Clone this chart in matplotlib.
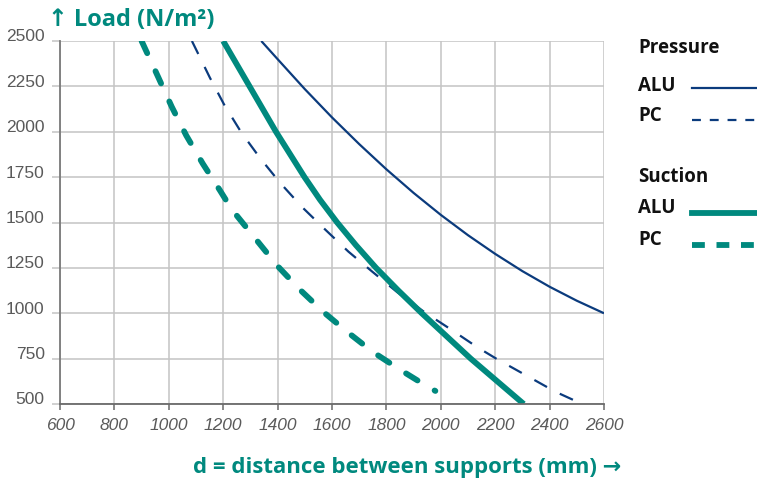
import matplotlib
matplotlib.use('Agg')
import matplotlib.pyplot as plt
from matplotlib.lines import Line2D
from matplotlib.transforms import ScaledTranslation

# values
p_alu_d = [1340, 1400, 1500, 1600, 1700, 1800, 1900, 2000, 2100, 2200, 2300, 2400, 2500, 2600]
p_alu_load = [2500, 2400, 2235, 2079, 1932, 1793, 1663, 1542, 1430, 1327, 1232, 1146, 1069, 1000]

p_pc_d = [1085, 1151, 1204, 1267, 1336, 1409, 1490, 1573, 1660, 1749, 1839, 1941,
          2036, 2134, 2207, 2422, 2520]
p_pc_load = [2500, 2298, 2148, 1995, 1854, 1719, 1585, 1464, 1340, 1228, 1117, 1005,
             912, 813, 747, 567, 500]

s_alu_d = [1200, 1297, 1394, 1499, 1556, 1619, 1688, 1762, 1844, 1930, 2110, 2305]
s_alu_load = [2500, 2250, 2000, 1750, 1625, 1500, 1375, 1250, 1125, 1000, 750, 500]

s_pc_d = [900, 962, 1011, 1064, 1125, 1188, 1232, 1326, 1400, 1482, 1570, 1658,
          1750, 1848, 1952, 1980]
s_pc_load = [2500, 2298, 2137, 1980, 1824, 1677, 1571, 1397, 1260, 1130, 1005, 895,
             787, 691, 595, 572]

x_ticks = list(range(600, 2601, 200))
y_ticks = list(range(500, 2501, 250))

navy = '#0b3b7d'
teal = '#00897e'
grid_c = '#c4c4c4'
tick_c = '#5a5a5a'
bold_font = ['Open Sans', 'DejaVu Sans']
num_font = ['Liberation Sans Narrow', 'Liberation Sans', 'DejaVu Sans']

fig = plt.figure(figsize=(7.57, 4.82), dpi=100)
ax = fig.add_axes([60/757, 78/482, 544/757, 363/482])

ax.plot(p_alu_d, p_alu_load, color=navy, lw=1.6, solid_capstyle='butt')
ax.plot(p_pc_d, p_pc_load, color=navy, lw=1.6, dashes=(6.5, 6.5))
ax.plot(s_alu_d, s_alu_load, color=teal, lw=4.2, solid_capstyle='butt',
        solid_joinstyle='round')
ax.plot(s_pc_d, s_pc_load, color=teal, lw=4.2, dashes=(2.3, 3.4), dash_capstyle='round')

ax.set_xlim(600, 2600)
ax.set_ylim(500, 2500)
ax.set_xticks(x_ticks)
ax.set_yticks(y_ticks)
ax.grid(True, color=grid_c, lw=1.1)
ax.set_axisbelow(True)
for s in ['top', 'right']:
    ax.spines[s].set_visible(False)
ax.spines['left'].set_color('#7a7a7a')
ax.spines['bottom'].set_color('#6a6a6a')
ax.spines['left'].set_linewidth(1.3)
ax.spines['bottom'].set_linewidth(1.3)
ax.tick_params(axis='y', length=6, color=grid_c, width=1.1, pad=5)
ax.tick_params(axis='x', length=4, color='#6a6a6a', width=1.1, pad=6)

for lab in ax.get_xticklabels():
    lab.set_fontfamily(num_font)
    lab.set_fontsize(12.5)
    lab.set_fontstyle('italic')
    lab.set_color(tick_c)
off = ScaledTranslation(0, 4/72, fig.dpi_scale_trans)
for lab in ax.get_yticklabels():
    lab.set_fontfamily(num_font)
    lab.set_fontsize(12.5)
    lab.set_color(tick_c)
    lab.set_transform(lab.get_transform() + off)

fig.text(48/757, 1 - 20/482, '↑ Load (N/m²)', color=teal, fontsize=17,
         fontweight='bold', family=bold_font, va='center', ha='left')
fig.text(621/757, 1 - 467/482, 'd = distance between supports (mm) →', color=teal,
         fontsize=16, fontweight='bold', family=bold_font, va='center', ha='right')

# legend built by hand on the right
def leg_text(y, s):
    fig.text(638/757, 1 - y/482, s, fontsize=13.5, fontweight='bold',
             family=bold_font, va='center', ha='left', color='#111111')

leg_text(48, 'Pressure')
leg_text(86, 'ALU')
leg_text(116, 'PC')
leg_text(177, 'Suction')
leg_text(208, 'ALU')
leg_text(240, 'PC')

fig.add_artist(Line2D([692/757, 1], [1 - 88/482] * 2, color=navy, lw=1.6,
                      transform=fig.transFigure))
fig.add_artist(Line2D([692/757, 1], [1 - 120/482] * 2, color=navy, lw=1.6,
                      dashes=(4, 4), transform=fig.transFigure))
fig.add_artist(Line2D([692/757, 1], [1 - 213/482] * 2, color=teal, lw=4.2,
                      transform=fig.transFigure))
fig.add_artist(Line2D([692/757, 1], [1 - 245/482] * 2, color=teal, lw=4.2,
                      dashes=(2.2, 2.0), transform=fig.transFigure))

fig.savefig('out.png', dpi=100)
